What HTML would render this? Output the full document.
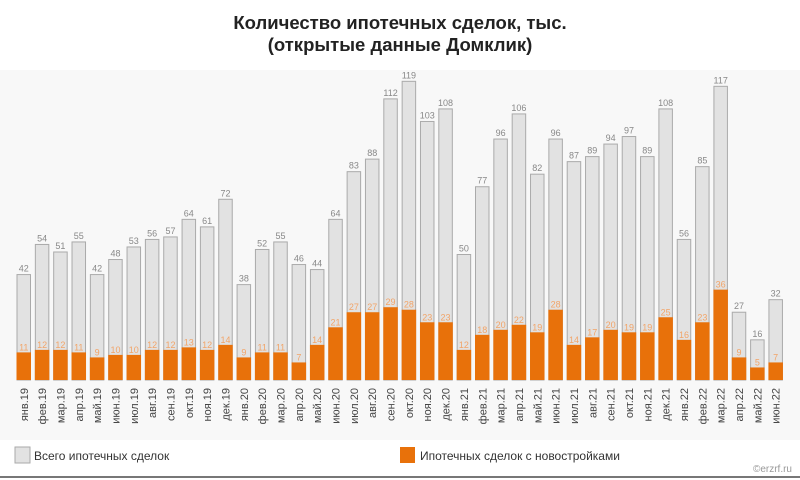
<!DOCTYPE html>
<html><head><meta charset="utf-8"><style>
body{margin:0;background:#fff;}
svg{display:block;font-family:"Liberation Sans",sans-serif;}
</style></head><body>
<svg width="800" height="480" viewBox="0 0 800 480" xmlns="http://www.w3.org/2000/svg">
<rect x="0" y="0" width="800" height="480" fill="#fff"/>
<rect x="0" y="70" width="800" height="370" fill="#f8f8f8"/>
<text x="400" y="29" text-anchor="middle" font-size="18.5" font-weight="bold" fill="#222">Количество ипотечных сделок, тыс.</text>
<text x="400" y="51" text-anchor="middle" font-size="18.5" font-weight="bold" fill="#222">(открытые данные Домклик)</text>
<g id="bars"></g>
<rect x="15" y="447" width="15" height="16" fill="#e2e2e2" stroke="#aaa"/>
<text x="34" y="460" font-size="12" fill="#333">Всего ипотечных сделок</text>
<rect x="400" y="447" width="15" height="16" fill="#e8710a"/>
<text x="420" y="460" font-size="12" fill="#333">Ипотечных сделок с новостройками</text>
<text x="792" y="472" text-anchor="end" font-size="10" fill="#999">©erzrf.ru</text>
<rect x="0" y="476" width="800" height="2" fill="#777"/>
</svg>
<script>
var T=[42,54,51,55,42,48,53,56,57,64,61,72,38,52,55,46,44,64,83,88,112,119,103,108,50,77,96,106,82,96,87,89,94,97,89,108,56,85,117,27,16,32];
var O=[11,12,12,11,9,10,10,12,12,13,12,14,9,11,11,7,14,21,27,27,29,28,23,23,12,18,20,22,19,28,14,17,20,19,19,25,16,23,36,9,5,7];
var M=["янв","фев","мар","апр","май","июн","июл","авг","сен","окт","ноя","дек"];
var g=document.getElementById("bars"),s="",b=380,k=2.51;
for(var i=0;i<42;i++){var x=17+i*18.34,w=13.5,c=x+w/2,ht=T[i]*k,ho=O[i]*k;
s+='<rect x="'+x+'" y="'+(b-ht)+'" width="'+w+'" height="'+ht+'" fill="#e2e2e2" stroke="#aaa" stroke-width="1"/>';
s+='<rect x="'+(x-0.5)+'" y="'+(b-ho)+'" width="'+(w+1)+'" height="'+ho+'" fill="#e8710a"/>';
s+='<text x="'+c+'" y="'+(b-ht-3)+'" text-anchor="middle" font-size="9" fill="#888">'+T[i]+'</text>';
s+='<text x="'+c+'" y="'+(b-ho-2)+'" text-anchor="middle" font-size="9" fill="#f2a468">'+O[i]+'</text>';
var lab=M[i%12]+"."+(19+Math.floor(i/12));
s+='<text transform="translate('+(c+4)+',388) rotate(-90)" text-anchor="end" font-size="11" fill="#444">'+lab+'</text>';}
g.innerHTML=s;
</script>
</body></html>
